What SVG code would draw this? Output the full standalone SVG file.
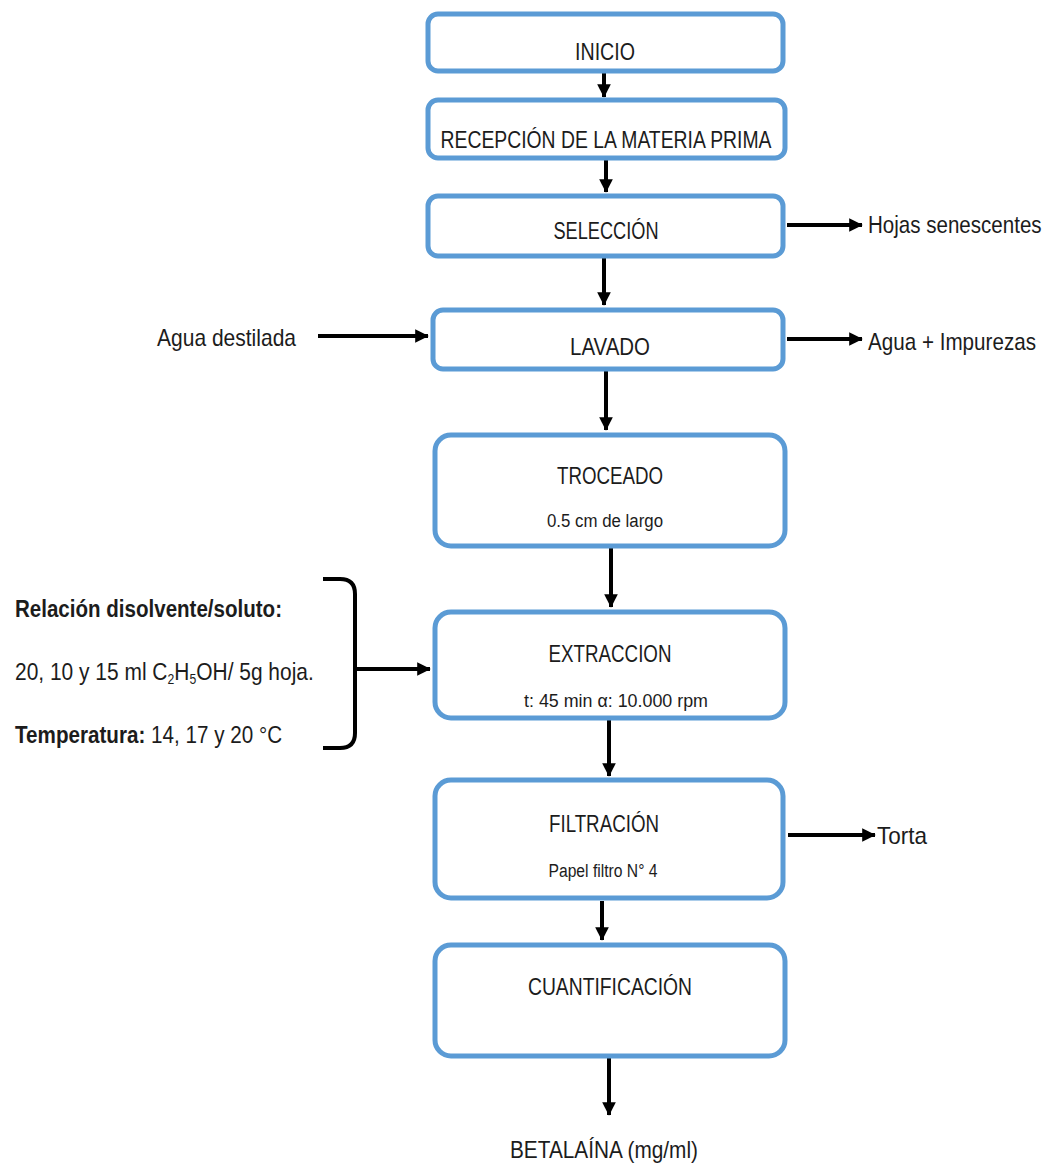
<svg xmlns="http://www.w3.org/2000/svg" width="1047" height="1167" viewBox="0 0 1047 1167">
<style>
.box{fill:#fff;stroke:#5B9BD5;stroke-width:5}
.t{font-family:"Liberation Sans",Arial,sans-serif;fill:#1c1c1c}
.h{font-size:24px;text-anchor:middle}
.s{font-size:18px;text-anchor:middle}
.l{font-size:24px}
.b{font-weight:bold}
.c{stroke:#000;stroke-width:4;fill:none}
</style>
<defs>
<marker id="ah" markerWidth="4" markerHeight="4" refX="3.2" refY="2" orient="auto" markerUnits="strokeWidth">
<path d="M0,0.3 L3.4,2 L0,3.7 Z" fill="#000"/>
</marker>
</defs>
<rect width="1047" height="1167" fill="#fff"/>
<g id="connectors">
<line class="c" x1="604" y1="73" x2="604" y2="97" marker-end="url(#ah)"/>
<line class="c" x1="606" y1="160" x2="606" y2="192" marker-end="url(#ah)"/>
<line class="c" x1="604" y1="258" x2="604" y2="305" marker-end="url(#ah)"/>
<line class="c" x1="606" y1="370" x2="606" y2="430" marker-end="url(#ah)"/>
<line class="c" x1="611" y1="548" x2="611" y2="607" marker-end="url(#ah)"/>
<line class="c" x1="609" y1="720" x2="609" y2="776" marker-end="url(#ah)"/>
<line class="c" x1="602" y1="901" x2="602" y2="940" marker-end="url(#ah)"/>
<line class="c" x1="609" y1="1057" x2="609" y2="1115" marker-end="url(#ah)"/>
<line class="c" x1="787" y1="225" x2="862" y2="225" marker-end="url(#ah)"/>
<line class="c" x1="787" y1="339" x2="862" y2="339" marker-end="url(#ah)"/>
<line class="c" x1="318" y1="336" x2="428" y2="336" marker-end="url(#ah)"/>
<line class="c" x1="355" y1="669" x2="430" y2="669" marker-end="url(#ah)"/>
<line class="c" x1="788" y1="835" x2="875" y2="835" marker-end="url(#ah)"/>
<path class="c" d="M323,579 L340,579 Q355,579 355,594 L355,733 Q355,748 340,748 L323,748"/>
</g>
<g id="inicio">
<rect class="box" x="428" y="14" width="355" height="57" rx="10"/>
<text class="t h" x="605" y="60" textLength="60" lengthAdjust="spacingAndGlyphs">INICIO</text>
</g>
<g id="recepcion">
<rect class="box" x="428" y="100" width="357" height="58" rx="10"/>
<text class="t h" x="606" y="148" textLength="331" lengthAdjust="spacingAndGlyphs">RECEPCIÓN DE LA MATERIA PRIMA</text>
</g>
<g id="seleccion">
<rect class="box" x="428" y="196" width="355" height="60" rx="10"/>
<text class="t h" x="606" y="239" textLength="105" lengthAdjust="spacingAndGlyphs">SELECCIÓN</text>
</g>
<g id="lavado">
<rect class="box" x="433" y="310" width="350" height="59" rx="10"/>
<text class="t h" x="610" y="355" textLength="80" lengthAdjust="spacingAndGlyphs">LAVADO</text>
</g>
<g id="troceado">
<rect class="box" x="435" y="435" width="350" height="111" rx="16"/>
<text class="t h" x="610" y="484" textLength="106" lengthAdjust="spacingAndGlyphs">TROCEADO</text>
<text class="t s" x="605" y="527" textLength="116" lengthAdjust="spacingAndGlyphs">0.5 cm de largo</text>
</g>
<g id="extraccion">
<rect class="box" x="435" y="612" width="350" height="106" rx="16"/>
<text class="t h" x="610" y="662" textLength="123" lengthAdjust="spacingAndGlyphs">EXTRACCION</text>
<text class="t s" x="616" y="707" textLength="184" lengthAdjust="spacingAndGlyphs">t: 45 min  α: 10.000 rpm</text>
</g>
<g id="filtracion">
<rect class="box" x="435" y="780" width="348" height="118" rx="16"/>
<text class="t h" x="604" y="832" textLength="110" lengthAdjust="spacingAndGlyphs">FILTRACIÓN</text>
<text class="t s" x="603" y="877" textLength="109" lengthAdjust="spacingAndGlyphs">Papel filtro N° 4</text>
</g>
<g id="cuantificacion">
<rect class="box" x="435" y="945" width="350" height="111" rx="16"/>
<text class="t h" x="610" y="995" textLength="164" lengthAdjust="spacingAndGlyphs">CUANTIFICACIÓN</text>
</g>
<g id="betalaina">
<text class="t h" x="604" y="1158" textLength="188" lengthAdjust="spacingAndGlyphs">BETALAÍNA (mg/ml)</text>
</g>
<g id="hojas">
<text class="t l" transform="translate(868,233) scale(0.857,1)">Hojas senescentes</text>
</g>
<g id="agua-impurezas">
<text class="t l" transform="translate(868,350) scale(0.86,1)">Agua + Impurezas</text>
</g>
<g id="agua-destilada">
<text class="t l" x="157" y="346" textLength="139" lengthAdjust="spacingAndGlyphs">Agua destilada</text>
</g>
<g id="torta">
<text class="t l" x="877" y="844" textLength="50" lengthAdjust="spacingAndGlyphs">Torta</text>
</g>
<g id="condiciones">
<text class="t l b" transform="translate(15,617) scale(0.856,1)">Relación disolvente/soluto:</text>
<text class="t l" transform="translate(15,680) scale(0.873,1)">20, 10 y 15 ml C<tspan font-size="14" dy="4">2</tspan><tspan dy="-4">H</tspan><tspan font-size="14" dy="4">5</tspan><tspan dy="-4">OH/ 5g hoja.</tspan></text>
<text class="t l" transform="translate(15,743) scale(0.86,1)"><tspan font-weight="bold">Temperatura:</tspan> 14, 17 y 20 °C</text>
</g>
</svg>
